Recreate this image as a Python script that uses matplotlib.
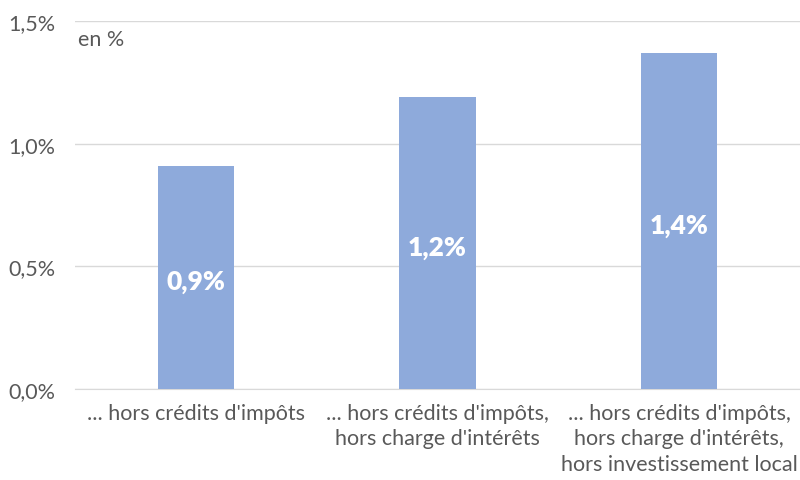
import matplotlib.pyplot as plt

categories = ["... hors crédits d'impôts",
              "... hors crédits d'impôts,\nhors charge d'intérêts",
              "... hors crédits d'impôts,\nhors charge d'intérêts,\nhors investissement local"]
values = [0.91, 1.19, 1.37]
bar_labels = ['0,9%', '1,2%', '1,4%']
yticks = [0.0, 0.5, 1.0, 1.5]
ytick_labels = ['0,0%', '0,5%', '1,0%', '1,5%']

plt.rcParams['font.family'] = ['Lato', 'DejaVu Sans']

fig = plt.figure(figsize=(8, 4.81), dpi=100)
ax = fig.add_axes([75 / 800, 1 - 390 / 481, 725 / 800, 368 / 481])

x = range(len(categories))
bars = ax.bar(x, values, width=0.315, color='#8eaadb', zorder=3)
for b, lab in zip(bars, bar_labels):
    ax.text(b.get_x() + b.get_width() / 2, b.get_height() / 2 - 0.015, lab,
            ha='center', va='center', color='white', fontsize=19, fontweight='heavy', zorder=4)

ax.set_xlim(-0.5, len(categories) - 0.5)
ax.set_ylim(0, 1.5)
ax.set_yticks(yticks)
ax.set_yticklabels(ytick_labels)
ax.set_xticks(list(x))
ax.set_xticklabels(categories, linespacing=1.35)
ax.tick_params(axis='both', length=0, labelsize=15.5, colors='#595959')
ax.tick_params(axis='y', pad=14)
ax.tick_params(axis='x', pad=10)
ax.grid(axis='y', color='#d9d9d9', linewidth=1, zorder=0)
for s in ['left', 'right', 'top']:
    ax.spines[s].set_visible(False)
ax.spines['bottom'].set_color('#d9d9d9')

ax.text(0.004, 0.952, 'en %', transform=ax.transAxes, fontsize=15.5, color='#595959', va='center')

fig.savefig('out.png', dpi=100)
